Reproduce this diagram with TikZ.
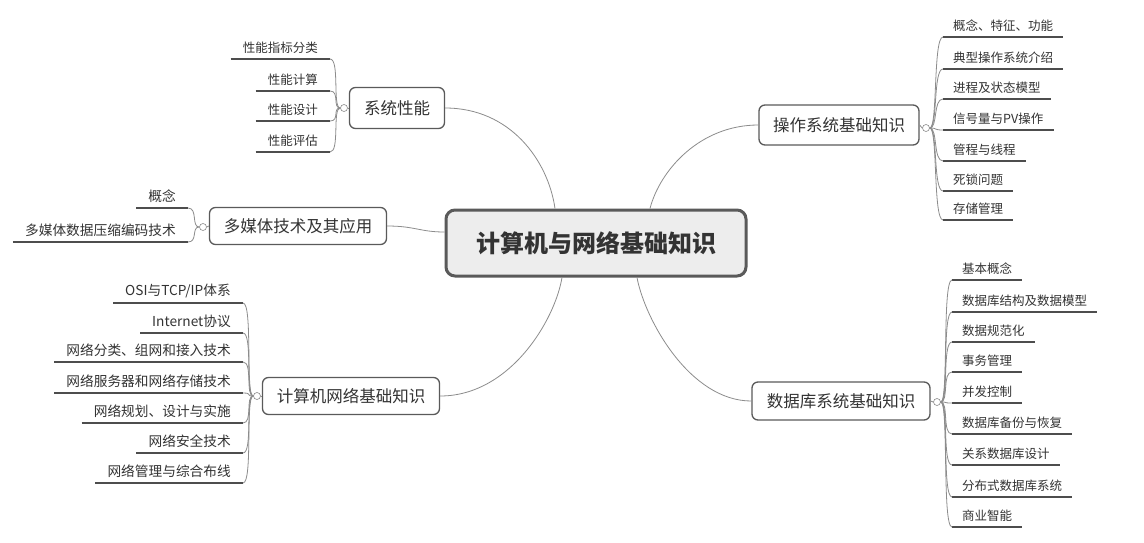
\documentclass[tikz,border=0pt]{standalone}
\usepackage{fontspec}
\setmainfont{Noto Sans CJK SC}
\definecolor{conn}{HTML}{8C8C8C}
\definecolor{bord}{HTML}{5A5A5A}
\definecolor{ulc}{HTML}{4D4D4D}
\definecolor{txt}{HTML}{333333}
\tikzset{
  topic/.style={draw=bord, line width=1.3pt, rounded corners=6pt, fill=white, inner sep=0pt,
    font=\fontsize{16.5}{20}\selectfont, text=txt},
  central/.style={draw=bord, line width=3pt, rounded corners=9pt, fill=black!7, inner sep=0pt,
    font=\fontsize{24}{28}\selectfont\bfseries, text=txt},
  rsub/.style={anchor=south west, inner xsep=10pt, inner ysep=5pt, text=txt,
    font=\fontsize{12.5}{15}\selectfont},
  lsub/.style={anchor=south east, inner xsep=12pt, inner ysep=5pt, text=txt,
    font=\fontsize{12.5}{15}\selectfont},
  lsubb/.style={lsub, font=\fontsize{13.7}{16}\selectfont},
  knob/.style={circle, draw=conn, fill=white, minimum size=7pt, inner sep=0pt, line width=0.6pt},
  link/.style={draw=conn, line width=0.8pt},
  uline/.style={draw=ulc, line width=1.3pt},
}
\begin{document}
\begin{tikzpicture}[x=1pt,y=-1pt]
\useasboundingbox[fill=white] (0,0) rectangle (1144,542);

% central
\node[central, minimum width=300pt, minimum height=66pt] (c) at (596,243) {计算机与网络基础知识};

% main topics
\node[topic, minimum width=95pt, minimum height=41pt] (sp) at (397,108) {系统性能};
\node[topic, minimum width=160pt, minimum height=40pt] (os) at (839,125) {操作系统基础知识};
\node[topic, minimum width=177pt, minimum height=37pt] (mm) at (298,226) {多媒体技术及其应用};
\node[topic, minimum width=177pt, minimum height=37pt] (nw) at (351,396) {计算机网络基础知识};
\node[topic, minimum width=178pt, minimum height=38pt] (db) at (841,401) {数据库系统基础知识};

% links from centre
\draw[link] (sp.east) .. controls (510,108) and (548,160) .. (c.north west -| 555,0);
\draw[link] (os.west) .. controls (700,125) and (660,170) .. (c.north west -| 650,0);
\draw[link] (mm.east) .. controls (415,226) and (420,232) .. (c.west |- 0,232);
\draw[link] (nw.east) .. controls (510,396) and (555,320) .. (c.south west -| 562,0);
\draw[link] (db.west) .. controls (690,401) and (645,320) .. (c.south west -| 637,0);

% knobs
\node[knob] (spk) at (344,108) {};
\node[knob] (osk) at (926,128) {};
\node[knob] (mmk) at (203,227) {};
\node[knob] (nwk) at (257,396) {};
\node[knob] (dbk) at (937,402) {};
\draw[link] (sp.west) -- (spk.east);
\draw[link] (os.east) -- (osk.west);
\draw[link] (mm.west) -- (mmk.east);
\draw[link] (nw.west) -- (nwk.east);
\draw[link] (db.east) -- (dbk.west);

% system performance
\foreach \y/\t [count=\i] in {59/性能指标分类, 91/性能计算, 121/性能设计, 152/性能评估} {
  \node[lsub] (sp\i) at (330,\y) {\t};
  \draw[uline] (sp\i.south west) -- (sp\i.south east);
  \draw[link] (spk.west) .. controls +(-8,0) and +(10,0) .. (sp\i.south east);
}

% multimedia
\foreach \y/\t [count=\i] in {208/概念, 242/多媒体数据压缩编码技术} {
  \node[lsubb] (mm\i) at (188,\y) {\t};
  \draw[uline] (mm\i.south west) -- (mm\i.south east);
  \draw[link] (mmk.west) .. controls +(-8,0) and +(10,0) .. (mm\i.south east);
}

% network
\foreach \y/\t [count=\i] in {303/{OSI与TCP/IP体系}, 333/{Internet协议}, 362/{网络分类、组网和接入技术},
    393/{网络服务器和网络存储技术}, 423/{网络规划、设计与实施}, 453/{网络安全技术}, 483/{网络管理与综合布线}} {
  \node[lsubb] (nw\i) at (243,\y) {\t};
  \draw[uline] (nw\i.south west) -- (nw\i.south east);
  \draw[link] (nwk.west) .. controls +(-8,0) and +(10,0) .. (nw\i.south east);
}

% operating system
\foreach \y/\t [count=\i] in {37/概念、特征、功能, 69/典型操作系统介绍, 99/进程及状态模型,
    130/{信号量与PV操作}, 161/管程与线程, 191/死锁问题, 220/存储管理} {
  \node[rsub] (os\i) at (943,\y) {\t};
  \draw[uline] (os\i.south west) -- (os\i.south east);
  \draw[link] (osk.east) .. controls +(8,0) and +(-10,0) .. (os\i.south west);
}

% database
\foreach \y/\t [count=\i] in {280/基本概念, 312/数据库结构及数据模型, 342/数据规范化, 372/事务管理,
    403/并发控制, 434/数据库备份与恢复, 465/关系数据库设计, 497/分布式数据库系统, 527/商业智能} {
  \node[rsub] (db\i) at (952,\y) {\t};
  \draw[uline] (db\i.south west) -- (db\i.south east);
  \draw[link] (dbk.east) .. controls +(8,0) and +(-10,0) .. (db\i.south west);
}
\end{tikzpicture}
\end{document}
